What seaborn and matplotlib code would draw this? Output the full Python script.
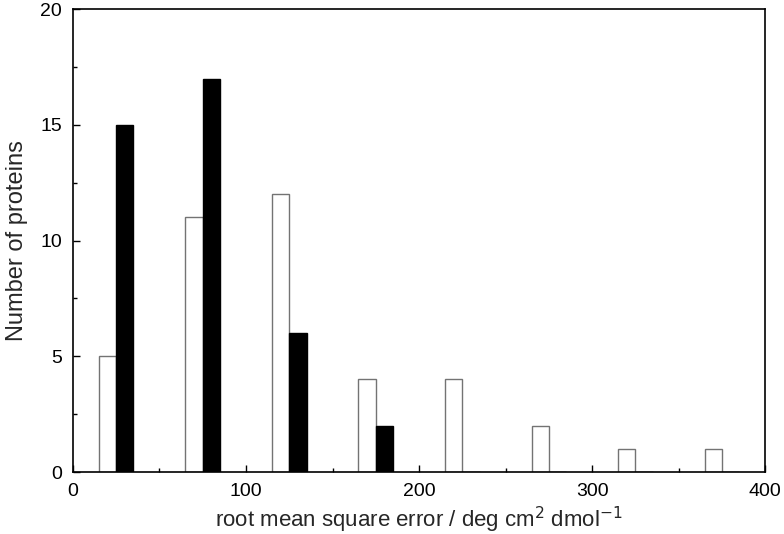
import numpy as np
import pandas as pd
import matplotlib
matplotlib.use("Agg")
import matplotlib.pyplot as plt
import seaborn as sns
from matplotlib.ticker import MultipleLocator

# bin centres (deg cm2 dmol-1) and counts per method
bin_centres = [25, 75, 125, 175, 225, 275, 325, 375]
counts_open = [5, 11, 12, 4, 4, 2, 1, 1]
counts_filled = [15, 17, 6, 2, 0, 0, 0, 0]

df = pd.DataFrame({
    "rmse": bin_centres * 2,
    "count": counts_open + counts_filled,
    "method": ["open"] * len(bin_centres) + ["filled"] * len(bin_centres),
})

sns.set_style("ticks")
plt.rcParams["font.family"] = ["Liberation Sans", "DejaVu Sans"]

fig = plt.figure(figsize=(7.84, 5.34), dpi=100)
ax = fig.add_axes([0.093, 0.116, 0.883, 0.867])

sns.barplot(data=df, x="rmse", y="count", hue="method",
            palette={"open": "white", "filled": "black"},
            native_scale=True, dodge=True, width=0.4,
            edgecolor="0.45", linewidth=1.0, legend=False, ax=ax)

for p in ax.patches:
    if p.get_facecolor()[0] < 0.5:
        p.set_edgecolor("black")

ax.set_xlim(0, 400)
ax.set_ylim(0, 20)
ax.xaxis.set_major_locator(MultipleLocator(100))
ax.xaxis.set_minor_locator(MultipleLocator(50))
ax.yaxis.set_major_locator(MultipleLocator(5))
ax.yaxis.set_minor_locator(MultipleLocator(2.5))
ax.tick_params(which="both", direction="in", top=False, right=False,
               labelsize=14, width=1, colors="black")
ax.tick_params(which="major", length=5, pad=8)
ax.tick_params(which="minor", length=3)
for s in ax.spines.values():
    s.set_visible(True)
    s.set_color("black")
    s.set_linewidth(1.2)

ax.set_xlabel("root mean square error / deg cm$^2$ dmol$^{-1}$", fontsize=16, labelpad=3)
ax.set_ylabel("Number of proteins", fontsize=17, labelpad=9)

fig.savefig("out.png", dpi=100)
